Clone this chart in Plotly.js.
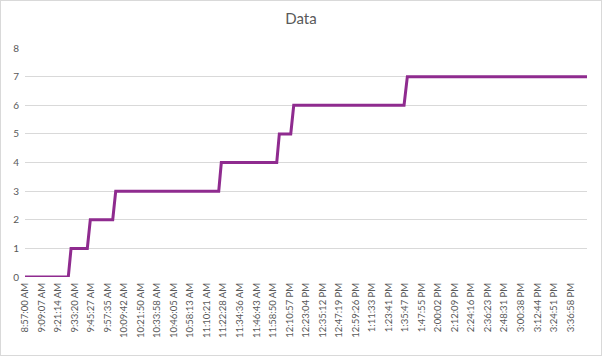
<!DOCTYPE html>
<html>
<head>
<meta charset="utf-8">
<script src="https://cdn.plot.ly/plotly-3.0.1.min.js"></script>
<style>
  html, body { margin: 0; padding: 0; background: #ffffff; }
  #chart { width: 600px; height: 354px; border: 1px solid #d9d9d9; }
</style>
</head>
<body>
<div id="chart"></div>
<script>
// Times at which the reading changes (start/end of each step), and values
const day = '2024-01-01 ';
const times = ['08:57:00','09:28:45','09:30:46','09:42:41','09:44:53','10:01:19','10:03:31',
               '11:19:03','11:20:57','12:01:35','12:03:29','12:11:51','12:14:03',
               '13:34:56','13:37:21','15:49:05'];
const values = [0,0,1,1,2,2,3,3,4,4,5,5,6,6,7,7];

// Category-axis labels shown in the reference
const tickLabels = ['8:57:00 AM','9:09:07 AM','9:21:14 AM','9:33:20 AM','9:45:27 AM','9:57:35 AM',
  '10:09:42 AM','10:21:50 AM','10:33:58 AM','10:46:05 AM','10:58:13 AM','11:10:21 AM',
  '11:22:28 AM','11:34:36 AM','11:46:43 AM','11:58:50 AM','12:10:57 PM','12:23:04 PM',
  '12:35:12 PM','12:47:19 PM','12:59:26 PM','1:11:33 PM','1:23:41 PM','1:35:47 PM',
  '1:47:55 PM','2:00:02 PM','2:12:09 PM','2:24:16 PM','2:36:23 PM','2:48:31 PM',
  '3:00:38 PM','3:12:44 PM','3:24:51 PM','3:36:58 PM'];

function to24(lbl) {
  const [t, ap] = lbl.split(' ');
  let [h, m, s] = t.split(':').map(Number);
  if (ap === 'PM' && h !== 12) h += 12;
  if (ap === 'AM' && h === 12) h = 0;
  const p = n => String(n).padStart(2, '0');
  return day + p(h) + ':' + p(m) + ':' + p(s);
}
const tickVals = tickLabels.map(to24);
const xs = times.map(t => day + t);

const font = 'Lato, "Open Sans", "DejaVu Sans", sans-serif';
const gray = '#595959';

Plotly.newPlot('chart', [{
  type: 'scatter',
  mode: 'lines',
  x: xs,
  y: values,
  line: { color: '#8f2b8f', width: 3 },
  hoverinfo: 'skip'
}], {
  width: 600,
  height: 354,
  margin: { l: 24, r: 14, t: 47, b: 78 },
  paper_bgcolor: '#ffffff',
  plot_bgcolor: '#ffffff',
  showlegend: false,
  title: {
    text: 'Data',
    font: { family: font, size: 15, color: gray },
    x: 0.5, xanchor: 'center',
    y: 1 - 18 / 354, yanchor: 'middle', yref: 'container'
  },
  xaxis: {
    type: 'date',
    range: [xs[0], xs[xs.length - 1]],
    tickvals: tickVals,
    ticktext: tickLabels,
    tickangle: -90,
    tickfont: { family: font, size: 9.5, color: gray },
    ticklabelstandoff: 3,
    showgrid: false,
    zeroline: false,
    showline: false,
    ticks: ''
  },
  yaxis: {
    range: [0, 8],
    dtick: 1,
    tick0: 0,
    tickfont: { family: font, size: 10, color: gray },
    ticklabelstandoff: 5,
    showgrid: true,
    gridcolor: '#d9d9d9',
    gridwidth: 1,
    zeroline: false,
    showline: false,
    ticks: ''
  }
}, { displayModeBar: false, staticPlot: true });
</script>
</body>
</html>
